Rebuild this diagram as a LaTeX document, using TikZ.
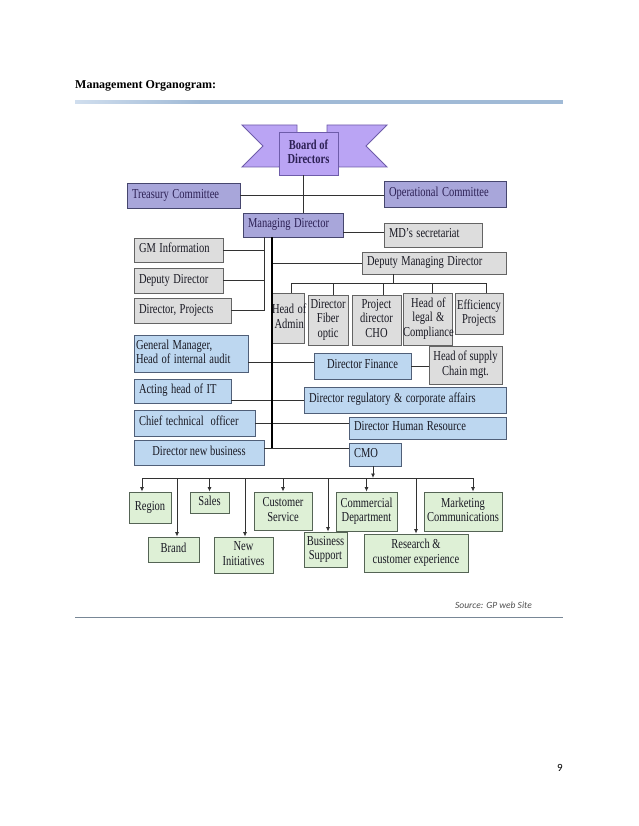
\documentclass[tikz,border=0pt]{standalone}
\usepackage{fontspec}
\setmainfont{Liberation Serif}
\newfontfamily\carlito{Carlito}
\usepackage{graphicx}
\usetikzlibrary{arrows.meta}

\definecolor{ribfill}{RGB}{186,164,244}
\definecolor{ribdraw}{RGB}{110,92,170}
\definecolor{ptxt}{RGB}{44,32,84}
\definecolor{purpfill}{RGB}{168,166,218}
\definecolor{purpdraw}{RGB}{70,70,110}
\definecolor{greyfill}{RGB}{221,221,221}
\definecolor{greydraw}{RGB}{100,100,100}
\definecolor{blufill}{RGB}{189,215,240}
\definecolor{bludraw}{RGB}{80,95,120}
\definecolor{grnfill}{RGB}{222,240,214}
\definecolor{grndraw}{RGB}{85,100,85}
\definecolor{txt}{RGB}{25,25,35}
\definecolor{lncol}{RGB}{50,50,50}
\definecolor{rulea}{RGB}{208,222,238}
\definecolor{ruleb}{RGB}{160,186,214}
\definecolor{srccol}{RGB}{120,135,150}
\definecolor{srctxt}{RGB}{80,80,80}

\begin{document}
\begin{tikzpicture}[x=1pt,y=-1pt,
  >={Latex[length=4.5pt,width=4pt]},
  box/.style={draw, line width=0.85pt, inner sep=0pt,
    font=\fontsize{10.5}{11}\selectfont, text=txt},
  wh/.style 2 args={minimum width=#1pt, minimum height=#2pt},
  lft/.style={text width=#1pt, align=left, inner xsep=5pt},
  ctr/.style={text width=#1pt, align=center},
  rib/.style={fill=ribfill, draw=ribdraw, line width=0.85pt},
  purp/.style={fill=purpfill, draw=purpdraw, text=ptxt},
  grey/.style={fill=greyfill, draw=greydraw},
  blu/.style={fill=blufill, draw=bludraw},
  grn/.style={fill=grnfill, draw=grndraw},
  ln/.style={draw=lncol, line width=0.8pt},
  trunk/.style={draw=black, line width=1.4pt}]

  \newcommand\tallc[1]{\scalebox{1}[1.3]{\begin{tabular}{@{}c@{}}#1\end{tabular}}}
  \newcommand\talll[1]{\scalebox{1}[1.3]{\begin{tabular}{@{}l@{}}#1\end{tabular}}}

  \useasboundingbox[fill=white] (0,0) rectangle (638,826);

  % heading and rules
  \node[anchor=base west, inner sep=0pt, font=\bfseries\fontsize{12}{14}\selectfont]
    (title) at (75,89) {Management Organogram:};
  \shade[left color=rulea, right color=ruleb] (75,100.5) rectangle (200,104);
  \fill[ruleb] (200,100.5) rectangle (563,104);
  \draw[srccol, line width=1pt] (75,617) -- (563,617);
  \node[anchor=base east, inner sep=0pt, text=srctxt,
    font=\carlito\itshape\fontsize{9.5}{11}\selectfont]
    (source) at (532,608) {Source: GP web Site};
  \node[inner sep=0pt, font=\carlito\fontsize{11}{13}\selectfont] (pagenum) at (560,768) {9};

  % board ribbon
  \draw[rib] (242,125) -- (297,125) -- (297,140) -- (279,167) -- (242,167) -- (263,146) -- cycle;
  \draw[rib] (387,125) -- (327,125) -- (327,140) -- (339,167) -- (387,167) -- (366,146) -- cycle;
  \node[box, rib, wh={59}{43}, text=ptxt, font=\bfseries\fontsize{10.5}{11}\selectfont]
    (board) at (308.5,153.5) {\tallc{Board of\\Directors}};

  \node[box, purp, wh={113}{25}, lft=103] (treasury) at (183.5,195.5) {\talll{Treasury Committee}};
  \node[box, purp, wh={122}{26}, lft=112] (operational) at (445,194) {\talll{Operational Committee}};
  \node[box, purp, wh={100}{24}, lft=90] (md) at (293,225) {\talll{Managing Director}};

  % grey boxes
  \node[box, grey, wh={98}{24}, lft=88] (mdsec) at (433,235) {\talll{MD's secretariat}};
  \node[box, grey, wh={144}{22}, lft=134] (dmd) at (434,263) {\talll{Deputy Managing Director}};
  \node[box, grey, wh={89}{24}, lft=79] (gminfo) at (178.5,250) {\talll{GM Information}};
  \node[box, grey, wh={89}{25}, lft=79] (deputy) at (178.5,280.5) {\talll{Deputy Director}};
  \node[box, grey, wh={97}{25}, lft=87] (dirproj) at (182.5,310.5) {\talll{Director, Projects}};
  \node[box, grey, wh={32}{50}, ctr=32] (admin) at (288,318) {\tallc{Head of\\Admin}};
  \node[box, grey, wh={40}{50}] (fiber) at (328,320) {\tallc{Director\\Fiber\\optic}};
  \node[box, grey, wh={49}{50}] (cho) at (376.5,320) {\tallc{Project\\director\\CHO}};
  \node[box, grey, wh={49}{52}, ctr=49] (legal) at (427.5,319) {\tallc{Head of\\legal \&\\Compliance}};
  \node[box, grey, wh={48}{41}] (effic) at (479,313.5) {\tallc{Efficiency\\Projects}};
  \node[box, grey, wh={73}{38}] (supply) at (465.5,365) {\tallc{Head of supply\\Chain mgt.}};

  % blue boxes
  \node[box, blu, wh={114}{37}, lft=110, inner xsep=2pt] (gmaudit) at (191,353.5)
    {\talll{General Manager,\\Head of internal audit}};
  \node[box, blu, wh={97}{26}] (finance) at (362.5,366) {\tallc{Director Finance}};
  \node[box, blu, wh={97}{24}, lft=87] (actit) at (182.5,391) {\talll{Acting head of IT}};
  \node[box, blu, wh={202}{26}, lft=192] (regul) at (405,400)
    {\talll{Director regulatory \& corporate affairs}};
  \node[box, blu, wh={121}{26}, lft=111] (cto) at (194.5,423) {\talll{Chief technical\ \ officer}};
  \node[box, blu, wh={157}{22}, lft=147] (hr) at (427.5,428) {\talll{Director Human Resource}};
  \node[box, blu, wh={130}{25}] (newbiz) at (199,452.5) {\tallc{Director new business}};
  \node[box, blu, wh={52}{23}, lft=42] (cmo) at (375,454.5) {\talll{CMO}};

  % green boxes
  \node[box, grn, wh={42}{31}] (region) at (150,507.5) {\tallc{Region}};
  \node[box, grn, wh={39}{21}] (sales) at (209.5,502.5) {\tallc{Sales}};
  \node[box, grn, wh={58}{38}] (custserv) at (283,511) {\tallc{Customer\\Service}};
  \node[box, grn, wh={61}{39}] (commdept) at (366.5,511.5) {\tallc{Commercial\\Department}};
  \node[box, grn, wh={78}{39}] (mktcom) at (463,511.5) {\tallc{Marketing\\Communications}};
  \node[box, grn, wh={51}{25}] (brand) at (173.5,549.5) {\tallc{Brand}};
  \node[box, grn, wh={59}{36}] (newinit) at (243.5,555) {\tallc{New\\Initiatives}};
  \node[box, grn, wh={43}{35}] (bizsup) at (325.5,549.5) {\tallc{Business\\Support}};
  \node[box, grn, wh={104}{38}] (research) at (416,553) {\tallc{Research \&\\customer experience}};

  % connectors
  \draw[ln] ([xshift=-5.5pt]board.south) -- ([xshift=-5.5pt]board.south |- md.north);
  \draw[ln] (treasury.east) -- (treasury.east -| operational.west);
  \draw[ln] ([yshift=3pt]mdsec.west) -- ([yshift=3pt]mdsec.west -| md.east);

  \coordinate (ltop) at ([xshift=-29pt]md.south);
  \coordinate (ttop) at ([xshift=-21pt]md.south);
  \coordinate (tbot) at (272,448);
  \draw[ln] (ltop) -- (ltop |- dirproj.east) -- (dirproj.east);
  \draw[ln] (gminfo.east) -- (gminfo.east -| ltop);
  \draw[ln] (deputy.east) -- (deputy.east -| ltop);
  \draw[ln] (dmd.west) -- (dmd.west -| ttop);

  \coordinate (dbus) at (393,283);
  \draw[ln] (dmd.south -| dbus) -- (dbus);
  \draw[ln] ([xshift=3pt]admin.north |- dbus) -- ([xshift=7pt]effic.north |- dbus);
  \foreach \n/\dx in {admin/3,fiber/5,cho/7,legal/5,effic/7}
    \draw[ln] ([xshift=\dx pt]\n.north |- dbus) -- ([xshift=\dx pt]\n.north);

  \draw[ln] ([yshift=4pt]finance.west) -- ([yshift=4pt]finance.west -| gmaudit.east);
  \draw[ln] (finance.east) -- (finance.east -| supply.west);
  \draw[ln] (regul.west) -- (regul.west -| actit.east);
  \draw[ln] (cto.east) -- (cto.east -| hr.west);
  \draw[ln] (tbot -| newbiz.east) -- (tbot -| cmo.west);
  \draw[trunk] (ttop) -- (tbot);

  \coordinate (gbus) at (373,478);
  \draw[ln,->] ([xshift=-2pt]cmo.south) -- (gbus);
  \draw[ln] ([xshift=-8pt]region.north |- gbus) -- ([xshift=10pt]mktcom.north |- gbus);
  \foreach \n/\dx in {region/-8,brand/3.5,sales/0,newinit/1.5,custserv/0,bizsup/2.5,commdept/0,research/0,mktcom/10}
    \draw[ln,->] ([xshift=\dx pt]\n.north |- gbus) -- ([xshift=\dx pt]\n.north);

\end{tikzpicture}
\end{document}
